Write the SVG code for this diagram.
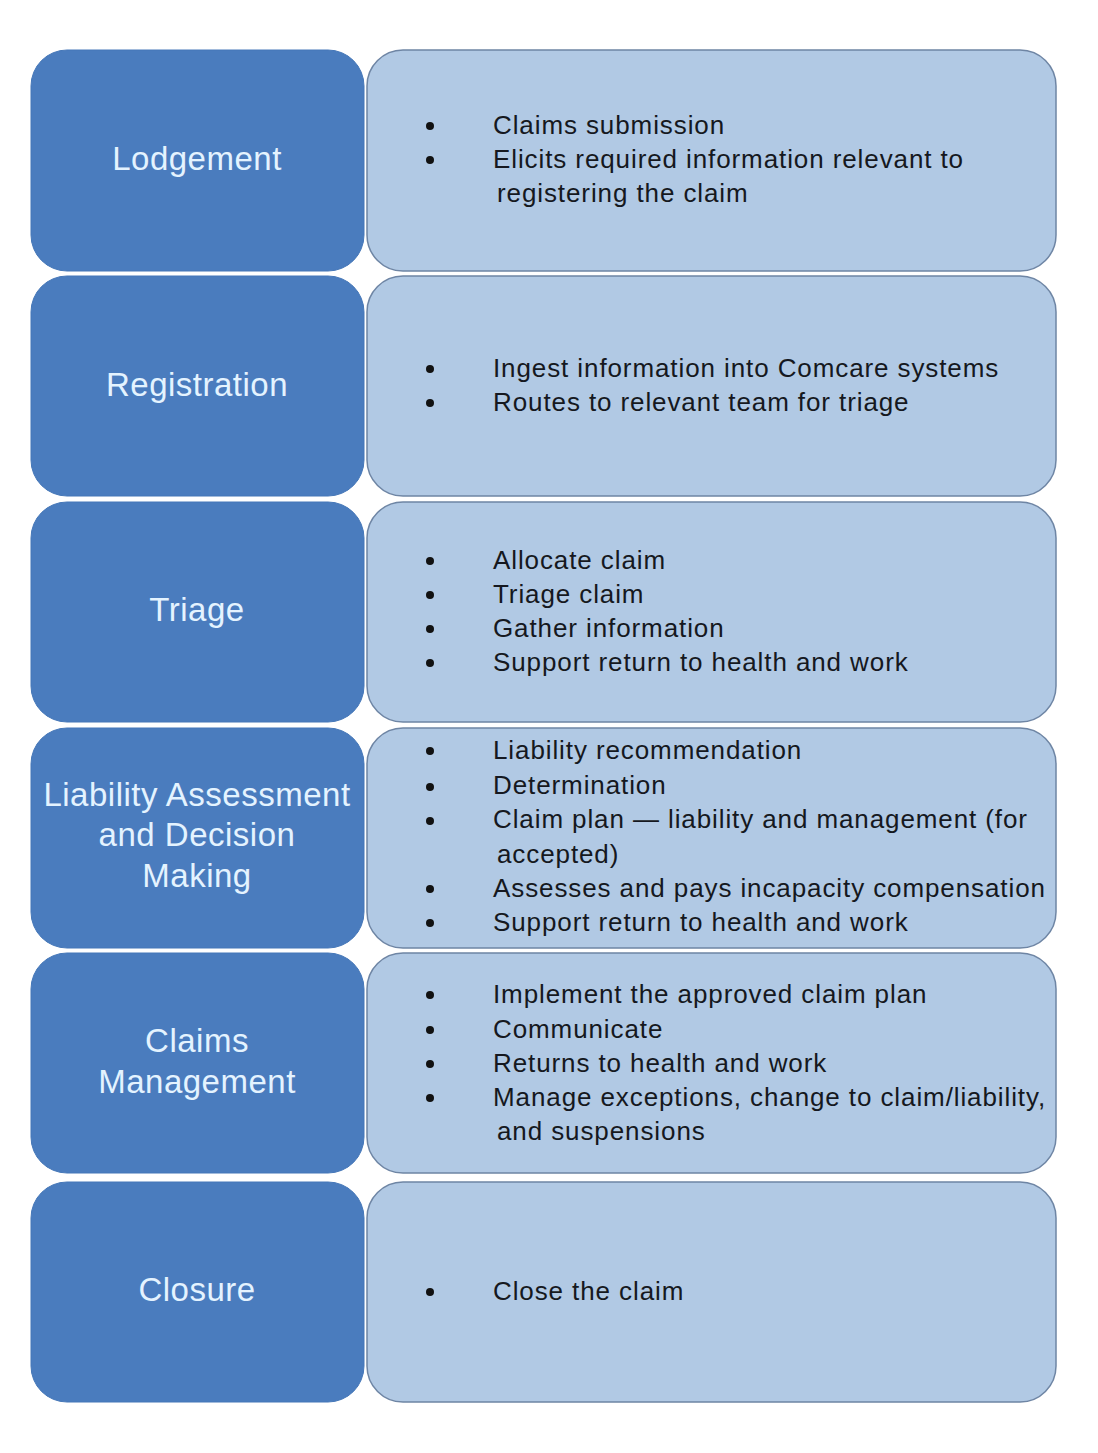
<svg xmlns="http://www.w3.org/2000/svg" width="1098" height="1453" viewBox="0 0 1098 1453">
<style>
.stage{fill:#4a7cbe;stroke:#4577b8;stroke-width:1}
.detail{fill:#b1c9e4;stroke:#6e85a4;stroke-width:1.5}
.lbl{font-family:"Liberation Sans",Arial,sans-serif;font-size:33px;fill:#e4f3ff;text-anchor:middle;letter-spacing:0.5px}
.itm{font-family:"Liberation Sans",Arial,sans-serif;font-size:26px;fill:#151820;letter-spacing:0.9px}
.dot{fill:#111}
</style>
<rect width="1098" height="1453" fill="#ffffff"/>
<g id="connectors"/>
<g id="lodgement">
<rect class="stage" x="31" y="50" width="333" height="221" rx="36"/>
<text class="lbl" x="197" y="170">Lodgement</text>
</g>
<g id="lodgement-details">
<rect class="detail" x="367" y="50" width="689" height="221" rx="36"/>
<circle class="dot" cx="430" cy="126" r="4"/><circle class="dot" cx="430" cy="160" r="4"/>
<text class="itm" x="493" y="134">Claims submission</text>
<text class="itm" x="493" y="168">Elicits required information relevant to</text>
<text class="itm" x="497" y="202">registering the claim</text>
</g>
<g id="registration">
<rect class="stage" x="31" y="276" width="333" height="220" rx="36"/>
<text class="lbl" x="197" y="396">Registration</text>
</g>
<g id="registration-details">
<rect class="detail" x="367" y="276" width="689" height="220" rx="36"/>
<circle class="dot" cx="430" cy="369" r="4"/><circle class="dot" cx="430" cy="403" r="4"/>
<text class="itm" x="493" y="377">Ingest information into Comcare systems</text>
<text class="itm" x="493" y="411">Routes to relevant team for triage</text>
</g>
<g id="triage">
<rect class="stage" x="31" y="502" width="333" height="220" rx="36"/>
<text class="lbl" x="197" y="621">Triage</text>
</g>
<g id="triage-details">
<rect class="detail" x="367" y="502" width="689" height="220" rx="36"/>
<circle class="dot" cx="430" cy="561" r="4"/><circle class="dot" cx="430" cy="595" r="4"/><circle class="dot" cx="430" cy="629" r="4"/><circle class="dot" cx="430" cy="663" r="4"/>
<text class="itm" x="493" y="569">Allocate claim</text>
<text class="itm" x="493" y="603">Triage claim</text>
<text class="itm" x="493" y="637">Gather information</text>
<text class="itm" x="493" y="671">Support return to health and work</text>
</g>
<g id="liability">
<rect class="stage" x="31" y="728" width="333" height="220" rx="36"/>
<text class="lbl" x="197" y="806">Liability Assessment</text>
<text class="lbl" x="197" y="846">and Decision</text>
<text class="lbl" x="197" y="887">Making</text>
</g>
<g id="liability-details">
<rect class="detail" x="367" y="728" width="689" height="220" rx="36"/>
<circle class="dot" cx="430" cy="751" r="4"/><circle class="dot" cx="430" cy="787" r="4"/><circle class="dot" cx="430" cy="821" r="4"/><circle class="dot" cx="430" cy="889" r="4"/><circle class="dot" cx="430" cy="923" r="4"/>
<text class="itm" x="493" y="759">Liability recommendation</text>
<text class="itm" x="493" y="794">Determination</text>
<text class="itm" x="493" y="828">Claim plan — liability and management (for</text>
<text class="itm" x="497" y="863">accepted)</text>
<text class="itm" x="493" y="897">Assesses and pays incapacity compensation</text>
<text class="itm" x="493" y="931">Support return to health and work</text>
</g>
<g id="claims-management">
<rect class="stage" x="31" y="953" width="333" height="220" rx="36"/>
<text class="lbl" x="197" y="1052">Claims</text>
<text class="lbl" x="197" y="1093">Management</text>
</g>
<g id="claims-management-details">
<rect class="detail" x="367" y="953" width="689" height="220" rx="36"/>
<circle class="dot" cx="430" cy="995" r="4"/><circle class="dot" cx="430" cy="1030" r="4"/><circle class="dot" cx="430" cy="1064" r="4"/><circle class="dot" cx="430" cy="1098" r="4"/>
<text class="itm" x="493" y="1003">Implement the approved claim plan</text>
<text class="itm" x="493" y="1038">Communicate</text>
<text class="itm" x="493" y="1072">Returns to health and work</text>
<text class="itm" x="493" y="1106">Manage exceptions, change to claim/liability,</text>
<text class="itm" x="497" y="1140">and suspensions</text>
</g>
<g id="closure">
<rect class="stage" x="31" y="1182" width="333" height="220" rx="36"/>
<text class="lbl" x="197" y="1301">Closure</text>
</g>
<g id="closure-details">
<rect class="detail" x="367" y="1182" width="689" height="220" rx="36"/>
<circle class="dot" cx="430" cy="1292" r="4"/>
<text class="itm" x="493" y="1300">Close the claim</text>
</g>
</svg>
